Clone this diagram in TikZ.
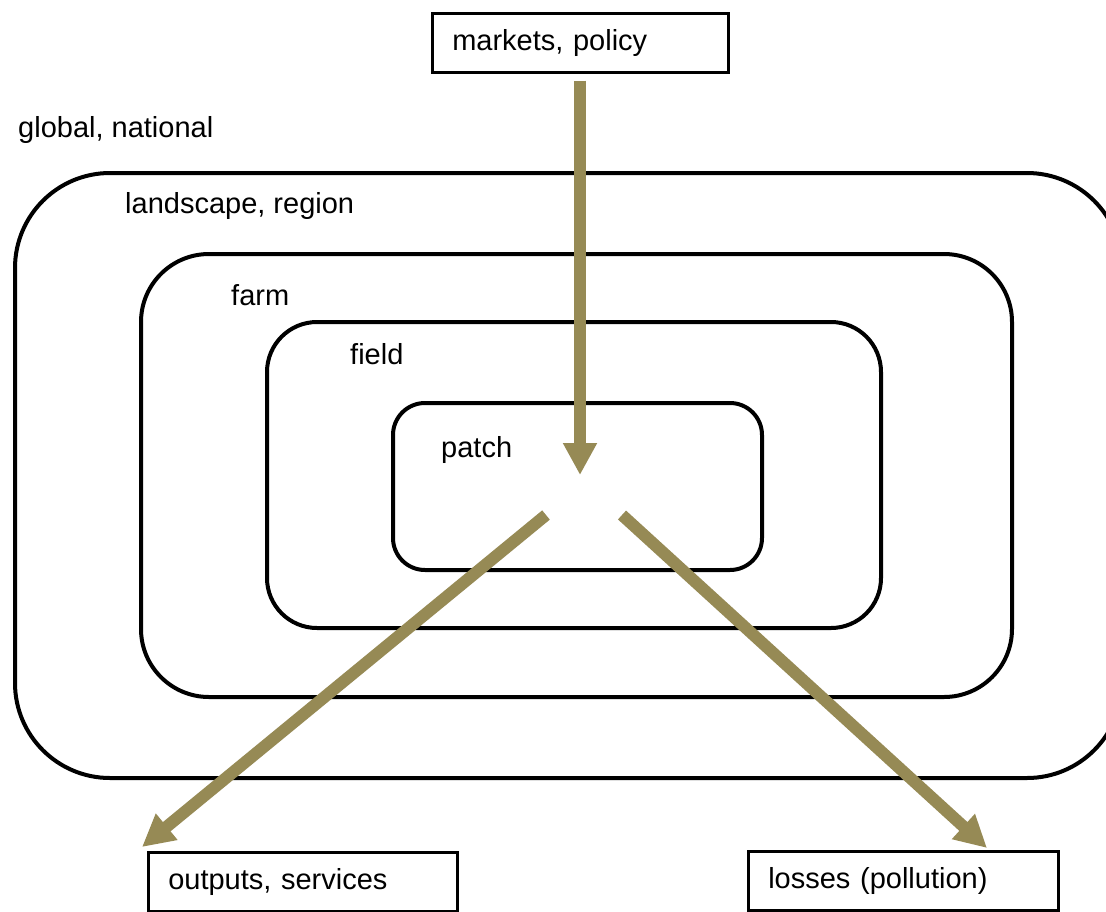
\documentclass[tikz,border=0pt]{standalone}
\usepackage{fontspec}
\setmainfont{Liberation Sans}
\usetikzlibrary{arrows.meta}
\definecolor{flow}{RGB}{150,138,85}
\tikzset{
  x=1pt, y=-1pt,
  level/.style={draw=black, line width=4pt},
  lbl/.style={anchor=base west, inner sep=0pt, font=\fontsize{29}{34}\selectfont},
  boxnode/.style={draw=black, line width=2.5pt, anchor=north west, inner xsep=20pt,
    inner ysep=0pt, align=left, minimum height=59pt, font=\fontsize{29}{34}\selectfont},
  flowarrow/.style={draw=flow, line width=12pt,
    -{Triangle[width=32pt,length=32pt]}}
}
\begin{document}
\begin{tikzpicture}
\useasboundingbox (0,0) rectangle (1106,911);
\clip (0,0) rectangle (1106,911);
% nested scales
\draw[level, rounded corners=95pt] (15,173) rectangle (1122,778);
\draw[level, rounded corners=68pt] (141,254) rectangle (1012,697);
\draw[level, rounded corners=50pt] (267,322) rectangle (881,628);
\draw[level, rounded corners=32pt] (393,403) rectangle (762,570);
% scale labels
\node[lbl] (global) at (18,137) {global, national};
\node[lbl] (landscape) at (125,213) {landscape, region};
\node[lbl] (farm) at (231,305) {farm};
\node[lbl] (field) at (350,364) {field};
\node[lbl] (patch) at (441,457) {patch};
% drivers and effects
\node[boxnode, text width=256pt] (markets) at (431,12) {markets, policy};
\node[boxnode, text width=269pt] (outputs) at (147,851) {outputs, services};
\node[boxnode, text width=270pt] (losses) at (747,850) {losses (pollution)};
% flow end points around the patch
\coordinate (intip) at (580,475);
\coordinate (outstart) at (546,515);
\coordinate (lossstart) at (622,515);
\coordinate (outtip) at (142,847);
\coordinate (losstip) at (987,848);
\draw[flowarrow, shorten <=7pt] (markets.south -| intip) -- (intip);
\draw[flowarrow] (outstart) -- (outtip);
\draw[flowarrow] (lossstart) -- (losstip);
\end{tikzpicture}
\end{document}
